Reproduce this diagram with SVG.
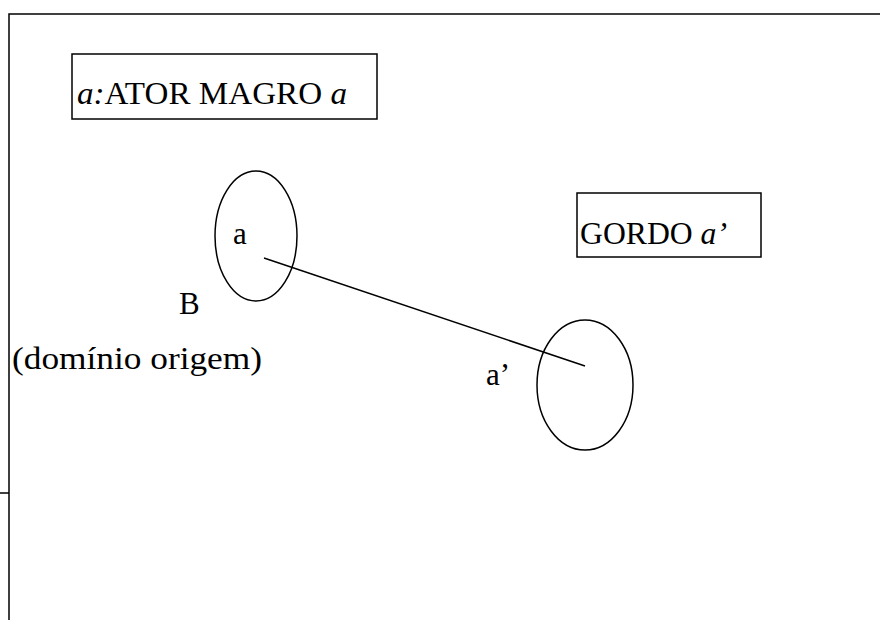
<svg xmlns="http://www.w3.org/2000/svg" width="880" height="620" viewBox="0 0 880 620">
<style>
.t{font-family:"Liberation Serif","Times New Roman",serif;font-size:31px;fill:#000}
.i{font-style:italic}
.s{fill:none;stroke:#000;stroke-width:1.5}
</style>
<rect width="880" height="620" fill="#fff"/>
<g id="frame">
<path class="s" d="M9,620 V14 H880"/>
<path class="s" d="M0,493 H9"/>
</g>
<g id="box-ator">
<rect class="s" x="72" y="54" width="305" height="65"/>
<text class="t" x="77" y="104" textLength="270" lengthAdjust="spacingAndGlyphs"><tspan class="i">a:</tspan>ATOR MAGRO <tspan class="i">a</tspan></text>
</g>
<g id="box-gordo">
<rect class="s" x="577" y="193" width="184" height="64"/>
<text class="t" x="580" y="244" textLength="147" lengthAdjust="spacingAndGlyphs">GORDO <tspan class="i">a’</tspan></text>
</g>
<g id="domain-b">
<ellipse class="s" cx="256" cy="236" rx="41" ry="65"/>
<text class="t" x="233" y="244">a</text>
<text class="t" x="179" y="314">B</text>
<text class="t" x="12" y="369" textLength="250" lengthAdjust="spacingAndGlyphs">(domínio origem)</text>
</g>
<g id="domain-target">
<ellipse class="s" cx="585" cy="385" rx="48" ry="65"/>
<text class="t" x="486" y="385">a’</text>
</g>
<g id="connectors">
<line class="s" x1="264" y1="258" x2="585" y2="366"/>
</g>
</svg>
